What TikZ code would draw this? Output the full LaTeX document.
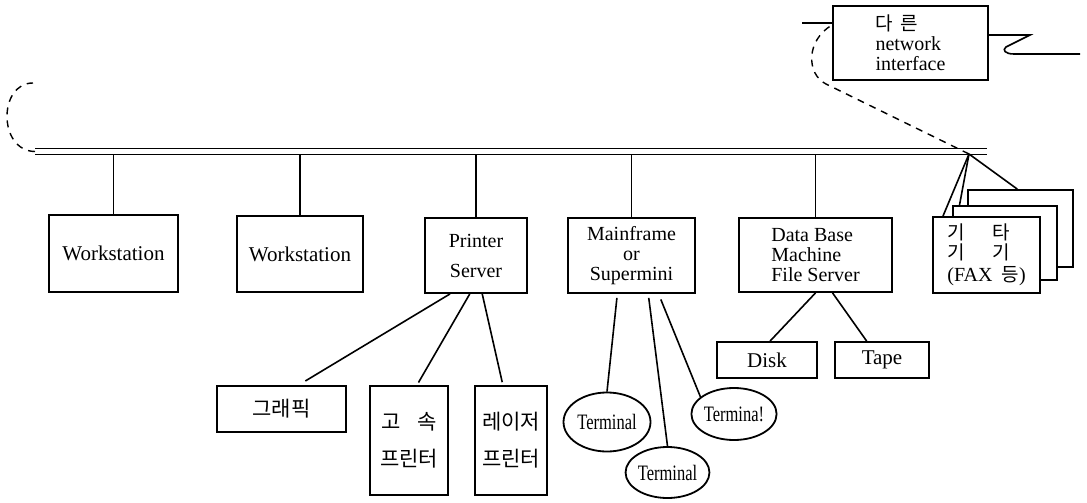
\documentclass[tikz,border=0pt]{standalone}
\usepackage{fontspec}
\setmainfont{Liberation Serif}
\newfontfamily\kor{Noto Sans CJK KR}
\usepackage{tikz}
\usetikzlibrary{shapes.geometric,calc}
\newcommand{\ko}[1]{{\kor\fontsize{10.5}{10}\selectfont #1}}
\newcommand{\kos}[1]{{\kor\fontsize{9.5}{10}\selectfont #1}}
\newcommand{\term}{\scalebox{0.75}[1]{Terminal}}
\tikzset{box/.style={draw,rectangle,line width=0.9pt,inner sep=0pt,align=center,fill=white,
        font=\fontsize{10.5}{10}\selectfont},
    tbox/.style={box,font=\fontsize{10}{10}\selectfont},
    termnode/.style={draw,ellipse,line width=0.9pt,inner sep=0pt,font=\fontsize{11}{11}\selectfont},
    link/.style={line width=0.8pt},
    bus/.style={double,double distance=2.2pt,line width=0.7pt},
    wire/.style={dash pattern=on 3.5pt off 3pt,line width=0.7pt}}

\begin{document}
\begin{tikzpicture}[x=0.5pt,y=-0.5pt]
    \useasboundingbox (0,0) rectangle (1087,503);
    \coordinate (busL) at (35,151.5);
    \coordinate (busR) at (987,151.5);
    \coordinate (tap) at (969,154);
    \coordinate (loopTop) at (33,83);
    \coordinate (stubL) at (802,23);
    \coordinate (wireR) at (1080,54);

    \node[box,minimum width=64.5pt,minimum height=38.5pt] (ws1) at (113.5,253.5) {Workstation};
    \node[box,minimum width=63pt,minimum height=38pt] (ws2) at (300,254) {Workstation};
    \node[tbox,minimum width=51pt,minimum height=37.5pt] (ps) at (476,255.5) {Printer\\[5pt]Server};
    \node[tbox,minimum width=63.5pt,minimum height=37.5pt] (mf) at (631.5,255.5) {Mainframe\\or\\Supermini};
    \node[tbox,align=left,minimum width=76.5pt,minimum height=37pt] (db) at (815.5,255) {Data Base\\Machine\\File Server};
    \node[box,minimum width=52.5pt,minimum height=38.5pt] (back) at (1020.5,228.5) {};
    \node[box,minimum width=52pt,minimum height=37pt] (mid) at (1005,243) {};
    \node[tbox,align=left,minimum width=53.5pt,minimum height=38pt] (front) at (986.5,255)
        {\kos{기\hspace{14pt}타}\\\kos{기\hspace{14pt}기}\\[1pt](FAX\hspace{0.45em}\kos{등})};
    \node[tbox,align=left,minimum width=77.5pt,minimum height=37pt] (nif) at (910.5,43)
        {\kos{다\hspace{0.4em}른}\\network\\interface};

    \node[box,minimum width=64.5pt,minimum height=23pt] (graf) at (281.5,409) {\ko{그래픽}};
    \node[box,minimum width=39pt,minimum height=54.5pt] (fast) at (409,440.5)
        {\ko{고\hspace{0.8em}속}\\[8.5pt]\ko{프린터}};
    \node[box,minimum width=36pt,minimum height=54.5pt] (laser) at (511,440.5)
        {\ko{레이저}\\[8.5pt]\ko{프린터}};
    \node[box,minimum width=50pt,minimum height=18pt] (disk) at (767,360) {Disk};
    \node[box,minimum width=47pt,minimum height=18pt] (tape) at (882,360) {Tape};
    \node[termnode,minimum width=43.5pt,minimum height=29.5pt] (t1) at (607,422) {\term};
    \node[termnode,minimum width=39.5pt,minimum height=25.5pt] (t2) at (667.5,472.5) {\term};
    \node[termnode,minimum width=39pt,minimum height=26pt] (t3) at (734,414) {\scalebox{0.75}[1]{Termina!}};

    \foreach \n in {ws1,ws2,ps,mf,db}
        \draw[link] (\n.north) -- (\n.north |- busL);
    \draw[bus] (busL) -- (busR);
    \draw[wire] (busL) .. controls (-2,151) and (-2,83) .. (loopTop);

    \draw[link] (tap) -- ($(front.north west)!0.1!(front.north east)$);
    \draw[link] (tap) -- ($(mid.north west)!0.07!(mid.north east)$);
    \draw[link] (tap) -- ($(back.north west)!0.47!(back.north east)$);

    \draw[link] (stubL) -- (stubL -| nif.west);
    \draw[link] (nif.east |- 0,35) -- (1030,35) -- (1006,47)
        .. controls (1002,50) and (1005,54) .. (1014,54) -- (wireR);
    \draw[wire] (tap) -- (826,84) .. controls (806,74) and (806,40) .. (nif.west |- 0,25);

    \draw[link,shorten >=4pt] ($(ps.south west)!0.25!(ps.south east)$) -- ($(graf.north west)!0.63!(graf.north east)$);
    \draw[link,shorten >=1.5pt] ($(ps.south west)!0.44!(ps.south east)$) -- ($(fast.north west)!0.6!(fast.north east)$);
    \draw[link,shorten >=1.5pt] ($(ps.south west)!0.56!(ps.south east)$) -- ($(laser.north west)!0.39!(laser.north east)$);

    \draw[link,shorten <=2pt] ($(mf.south west)!0.39!(mf.south east)$) -- (t1.north);
    \draw[link,shorten <=2pt] ($(mf.south west)!0.63!(mf.south east)$) -- (t2.north);
    \draw[link,shorten <=3pt] ($(mf.south west)!0.71!(mf.south east)$) -- (t3.153);

    \draw[link] ($(db.south west)!0.5!(db.south east)$) -- ($(disk.north west)!0.53!(disk.north east)$);
    \draw[link] ($(db.south west)!0.61!(db.south east)$) -- ($(tape.north west)!0.34!(tape.north east)$);
\end{tikzpicture}
\end{document}
